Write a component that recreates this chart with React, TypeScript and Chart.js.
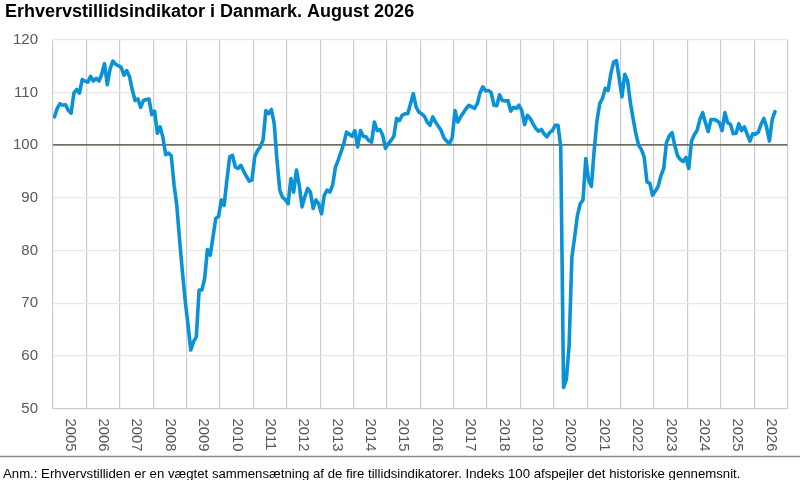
import { useEffect, useRef } from "react";
import { Chart, registerables, Plugin } from "chart.js";

Chart.register(...registerables);

const title = "Erhvervstillidsindikator i Danmark. August 2026";
const note =
  "Anm.: Erhvervstilliden er en vægtet sammensætning af de fire tillidsindikatorer. Indeks 100 afspejler det historiske gennemsnit.";

const years = [
  2005, 2006, 2007, 2008, 2009, 2010, 2011, 2012, 2013, 2014, 2015, 2016,
  2017, 2018, 2019, 2020, 2021, 2022, 2023, 2024, 2025, 2026,
];
const yTicks = [50, 60, 70, 80, 90, 100, 110, 120];

// monthly index, Jan 2005 - Aug 2026
const index = [
  105.4, 107.0, 107.9, 107.6, 107.7, 106.6, 106.1, 109.9, 110.6, 109.9, 112.5, 112.2, // 2005
  112.0, 113.1, 112.2, 112.7, 112.2, 113.5, 115.5, 111.5, 114.5, 116.0, 115.4, 115.1, // 2006
  114.8, 113.3, 114.2, 113.0, 110.5, 108.5, 108.8, 107.2, 108.5, 108.7, 108.8, 105.8, // 2007
  106.5, 102.3, 103.5, 101.5, 98.2, 98.5, 98.0, 92.5, 88.5, 82.0, 76.0, 70.5, // 2008
  66.0, 61.1, 62.7, 63.6, 72.5, 72.5, 74.7, 80.2, 79.1, 82.6, 86.1, 86.5, // 2009
  89.6, 88.6, 93.4, 97.8, 98.1, 95.9, 95.6, 96.2, 95.1, 94.1, 93.2, 93.4, // 2010
  97.8, 99.0, 99.7, 101.0, 106.6, 106.0, 106.8, 104.1, 97.2, 91.5, 90.1, 89.7, // 2011
  88.9, 93.7, 91.1, 95.3, 92.4, 88.3, 90.2, 91.8, 91.1, 88.0, 89.6, 88.9, // 2012
  87.0, 90.5, 91.5, 91.1, 92.4, 95.8, 97.2, 98.7, 100.3, 102.5, 102.1, 101.7, // 2013
  102.8, 99.7, 102.8, 101.7, 101.6, 100.9, 100.6, 104.4, 102.8, 103.0, 101.9, 99.4, // 2014
  100.3, 100.9, 101.7, 105.1, 104.7, 105.7, 106.0, 106.0, 107.9, 109.8, 107.3, 106.3, // 2015
  106.0, 105.5, 104.4, 103.8, 105.4, 104.4, 103.6, 102.8, 101.4, 100.8, 100.3, 101.5, // 2016
  106.6, 104.4, 105.4, 106.2, 107.0, 107.6, 107.3, 107.0, 107.9, 110.0, 111.1, 110.3, // 2017
  110.4, 110.0, 107.6, 107.5, 109.6, 108.5, 108.4, 108.5, 106.5, 107.2, 107.0, 107.6, // 2018
  106.6, 103.9, 105.7, 105.1, 104.1, 103.2, 102.7, 103.0, 102.2, 101.6, 102.4, 102.8, // 2019
  103.8, 103.8, 99.7, 54.0, 55.5, 62.0, 78.8, 82.6, 86.7, 88.9, 89.6, 97.5, // 2020
  93.4, 92.2, 99.0, 104.6, 107.9, 108.9, 110.8, 110.4, 113.6, 115.8, 116.1, 112.7, // 2021
  109.2, 113.5, 112.3, 108.2, 105.1, 102.2, 100.0, 99.2, 97.7, 93.0, 92.8, 90.5, // 2022
  91.3, 92.2, 94.2, 95.6, 100.5, 101.8, 102.4, 99.9, 98.0, 97.3, 96.9, 97.7, // 2023
  95.6, 100.8, 102.0, 102.8, 104.9, 106.2, 104.3, 102.6, 104.9, 104.9, 104.7, 104.3, // 2024
  102.8, 106.2, 104.3, 104.0, 102.2, 102.3, 104.1, 102.8, 103.5, 102.1, 100.8, 102.2, // 2025
  102.1, 102.5, 104.0, 105.1, 103.4, 100.8, 104.9, 106.4, // 2026
];

const FONT = "'Liberation Sans', Arial, sans-serif";

// title, rotated year labels, separator and note
const decor: Plugin<"line"> = {
  id: "decor",
  afterDraw(chart) {
    const { ctx } = chart;
    const xs = chart.scales.x;
    ctx.save();

    ctx.fillStyle = "#000";
    ctx.font = `bold 18px ${FONT}`;
    ctx.textAlign = "left";
    ctx.textBaseline = "alphabetic";
    ctx.fillText(title, 5, 17);

    ctx.fillStyle = "#555555";
    ctx.font = `14.8px ${FONT}`;
    ctx.textBaseline = "middle";
    years.forEach((yr, k) => {
      const px = xs.getPixelForValue(k * 12 + 6);
      ctx.save();
      ctx.translate(px, 418.5);
      ctx.rotate(Math.PI / 2);
      ctx.fillText(String(yr), 0, 0);
      ctx.restore();
    });

    ctx.strokeStyle = "#8c8c8c";
    ctx.lineWidth = 1.5;
    ctx.beginPath();
    ctx.moveTo(0, 456.5);
    ctx.lineTo(800, 456.5);
    ctx.stroke();

    ctx.fillStyle = "#000";
    ctx.font = `13.2px ${FONT}`;
    ctx.textBaseline = "alphabetic";
    ctx.fillText(note, 3, 477.5);

    ctx.restore();
  },
};

const App = () => {
  const canvasRef = useRef<HTMLCanvasElement | null>(null);
  const chartRef = useRef<Chart<"line"> | null>(null);

  useEffect(() => {
    if (!canvasRef.current) return;
    const ctx = canvasRef.current.getContext("2d");
    if (!ctx) return;

    if (chartRef.current) {
      chartRef.current.destroy();
    }

    chartRef.current = new Chart(ctx, {
      type: "line",
      data: {
        datasets: [
          {
            data: index.map((v, j) => ({ x: j + 0.5, y: v })),
            borderColor: "#0a92d6",
            borderWidth: 3.6,
            borderJoinStyle: "round",
            borderCapStyle: "round",
            pointRadius: 0,
            tension: 0,
            fill: false,
          },
        ],
      },
      options: {
        responsive: false,
        animation: false,
        layout: { padding: { left: -2, right: 12.5, top: 40, bottom: 71.5 } },
        plugins: {
          legend: { display: false },
          tooltip: { enabled: false },
          title: { display: false },
        },
        scales: {
          x: {
            type: "linear",
            min: 0,
            max: years.length * 12,
            afterBuildTicks: (scale) => {
              scale.ticks = years
                .map((_, k) => ({ value: k * 12 }))
                .concat([{ value: years.length * 12 }]);
            },
            ticks: { display: false },
            grid: { color: "#cccccc", lineWidth: 1.2, drawTicks: false },
            border: { display: false },
          },
          y: {
            min: 50,
            max: 120,
            afterBuildTicks: (scale) => {
              scale.ticks = yTicks.map((v) => ({ value: v }));
            },
            ticks: {
              padding: 15,
              color: "#595959",
              font: { family: FONT, size: 15 },
            },
            grid: {
              drawTicks: false,
              color: (c) =>
                c.tick.value === 100 ? "#707062" : c.tick.value === 50 ? "#cccccc" : "#e8e8e8",
              lineWidth: (c) => (c.tick.value === 100 ? 1.8 : 1.2),
            },
            border: { display: false },
          },
        },
      },
      plugins: [decor],
    });

    return () => {
      if (chartRef.current) {
        chartRef.current.destroy();
        chartRef.current = null;
      }
    };
  }, []);

  return (
    <div style={{ position: "absolute", left: 0, top: 0, width: 800, height: 480, background: "#fff" }}>
      <canvas ref={canvasRef} width={800} height={480} />
    </div>
  );
};

export default App;
